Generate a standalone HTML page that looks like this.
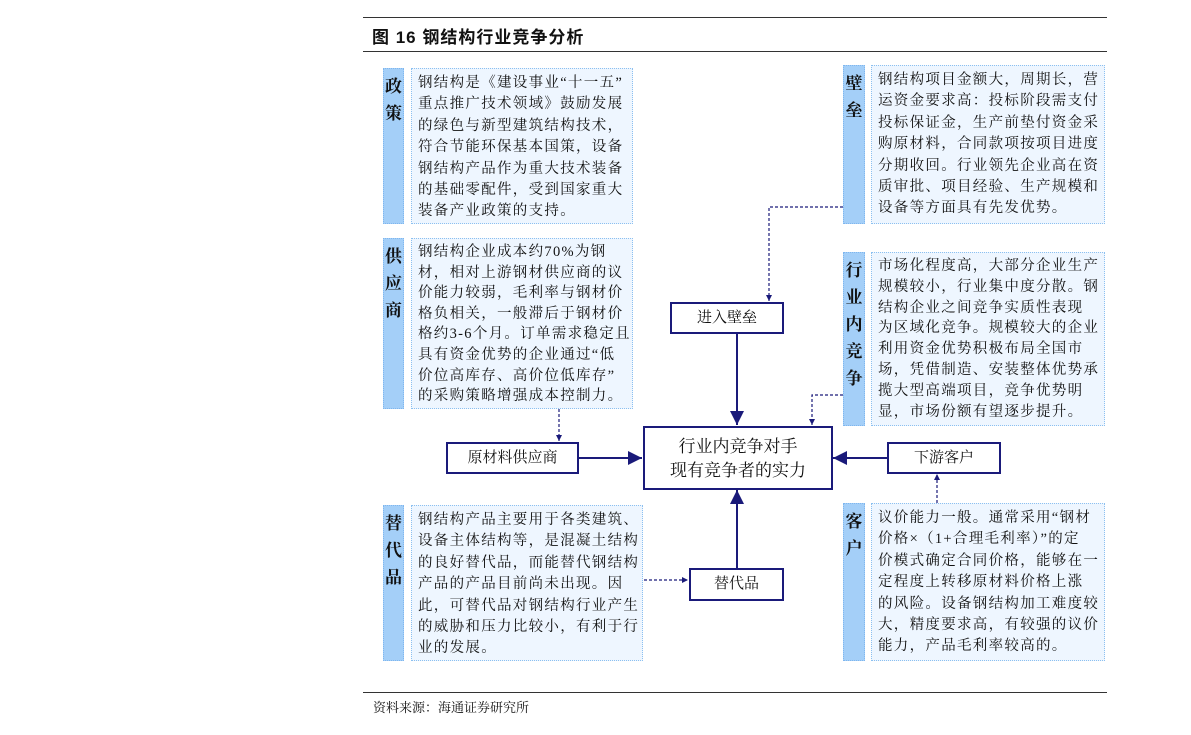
<!DOCTYPE html>
<html><head><meta charset="utf-8"><style>
body{margin:0;width:1191px;height:735px;background:#fff;position:relative;overflow:hidden;font-family:"Liberation Serif","Noto Serif CJK SC",serif;color:#111}
.a{position:absolute}
.lab{position:absolute;background:#a4cff8;border:1px dotted #7fb6ee;box-sizing:border-box;font-size:17px;font-weight:bold;line-height:27px;text-align:center;padding-top:4px}
.tx{position:absolute;background:#eef6ff;border:1px dotted #8cc0f0;box-sizing:border-box;font-size:14.5px;line-height:21.4px;padding:4px 0 0 6px;white-space:pre;letter-spacing:1.3px}
.bx{position:absolute;border:2px solid #1a1a7a;box-sizing:border-box;background:#fff;text-align:center;font-size:15px}
</style></head><body>
<div class="a" style="left:363px;top:17px;width:744px;border-top:1px solid #333"></div>
<div class="a" style="left:372px;top:23px;font-size:17px;font-weight:bold;letter-spacing:1px;font-family:'Liberation Sans','Noto Sans CJK SC',sans-serif">图 16 钢结构行业竞争分析</div>
<div class="a" style="left:363px;top:51px;width:744px;border-top:1px solid #333"></div>

<div class="lab" style="left:383px;top:68px;width:21px;height:156px">政<br>策</div>
<div class="tx" style="left:411px;top:68px;width:222px;height:156px">钢结构是《建设事业“十一五”
重点推广技术领域》鼓励发展
的绿色与新型建筑结构技术，
符合节能环保基本国策，设备
钢结构产品作为重大技术装备
的基础零配件，受到国家重大
装备产业政策的支持。</div>

<div class="lab" style="left:383px;top:238px;width:21px;height:171px">供<br>应<br>商</div>
<div class="tx" style="left:411px;top:238px;width:222px;height:171px;line-height:20.6px;padding-top:3px">钢结构企业成本约70%为钢
材，相对上游钢材供应商的议
价能力较弱，毛利率与钢材价
格负相关，一般滞后于钢材价
格约3-6个月。订单需求稳定且
具有资金优势的企业通过“低
价位高库存、高价位低库存”
的采购策略增强成本控制力。</div>

<div class="lab" style="left:383px;top:505px;width:21px;height:156px">替<br>代<br>品</div>
<div class="tx" style="left:411px;top:505px;width:232px;height:156px">钢结构产品主要用于各类建筑、
设备主体结构等，是混凝土结构
的良好替代品，而能替代钢结构
产品的产品目前尚未出现。因
此，可替代品对钢结构行业产生
的威胁和压力比较小，有利于行
业的发展。</div>

<div class="lab" style="left:843px;top:65px;width:22px;height:159px">壁<br>垒</div>
<div class="tx" style="left:871px;top:65px;width:234px;height:159px">钢结构项目金额大，周期长，营
运资金要求高：投标阶段需支付
投标保证金，生产前垫付资金采
购原材料，合同款项按项目进度
分期收回。行业领先企业高在资
质审批、项目经验、生产规模和
设备等方面具有先发优势。</div>

<div class="lab" style="left:843px;top:252px;width:22px;height:174px">行<br>业<br>内<br>竞<br>争</div>
<div class="tx" style="left:871px;top:252px;width:234px;height:174px;line-height:20.8px;padding-top:3px">市场化程度高，大部分企业生产
规模较小，行业集中度分散。钢
结构企业之间竞争实质性表现
为区域化竞争。规模较大的企业
利用资金优势积极布局全国市
场，凭借制造、安装整体优势承
揽大型高端项目，竞争优势明
显，市场份额有望逐步提升。</div>

<div class="lab" style="left:843px;top:503px;width:22px;height:158px">客<br>户</div>
<div class="tx" style="left:871px;top:503px;width:234px;height:158px">议价能力一般。通常采用“钢材
价格×（1+合理毛利率）”的定
价模式确定合同价格，能够在一
定程度上转移原材料价格上涨
的风险。设备钢结构加工难度较
大，精度要求高，有较强的议价
能力，产品毛利率较高的。</div>

<svg class="a" style="left:0;top:0" width="1191" height="735">
<defs><marker id="m" viewBox="0 0 10 10" refX="10" refY="5" markerWidth="7" markerHeight="7" orient="auto"><path d="M0,0L10,5L0,10z" fill="#1a1a7a"/></marker>
<marker id="s" viewBox="0 0 10 10" refX="10" refY="5" markerWidth="5" markerHeight="5" orient="auto"><path d="M0,0L10,5L0,10z" fill="#1a1a7a"/></marker></defs>
<g stroke="#1a1a7a" stroke-width="2" fill="none">
<line x1="737" y1="333" x2="737" y2="425" marker-end="url(#m)"/>
<line x1="737" y1="568" x2="737" y2="490" marker-end="url(#m)"/>
<line x1="578" y1="458" x2="642" y2="458" marker-end="url(#m)"/>
<line x1="887" y1="458" x2="833" y2="458" marker-end="url(#m)"/>
</g>
<g stroke="#1a1a7a" stroke-width="1.2" fill="none" stroke-dasharray="3,2">
<polyline points="843,207 769,207 769,301" marker-end="url(#s)"/>
<polyline points="843,395 812,395 812,425" marker-end="url(#s)"/>
<line x1="559" y1="409" x2="559" y2="441" marker-end="url(#s)"/>
<line x1="937" y1="503" x2="937" y2="474" marker-end="url(#s)"/>
<line x1="644" y1="580" x2="688" y2="580" marker-end="url(#s)"/>
</g></svg>

<div class="bx" style="left:643px;top:426px;width:190px;height:64px;font-size:17px;line-height:24px;padding-top:7px">行业内竞争对手<br>现有竞争者的实力</div>
<div class="bx" style="left:670px;top:302px;width:114px;height:32px;line-height:28px">进入壁垒</div>
<div class="bx" style="left:446px;top:442px;width:133px;height:32px;line-height:28px">原材料供应商</div>
<div class="bx" style="left:887px;top:442px;width:114px;height:32px;line-height:28px">下游客户</div>
<div class="bx" style="left:689px;top:568px;width:95px;height:33px;line-height:29px">替代品</div>

<div class="a" style="left:363px;top:692px;width:744px;border-top:1px solid #333"></div>
<div class="a" style="left:373px;top:697px;font-size:13px">资料来源：海通证券研究所</div>
</body></html>
